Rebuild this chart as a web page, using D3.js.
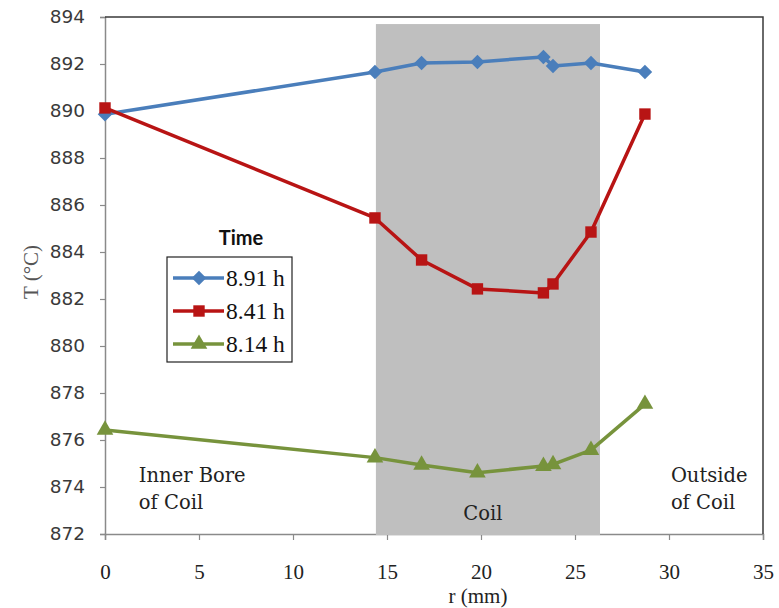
<!DOCTYPE html>
<html>
<head>
<meta charset="utf-8">
<script src="https://cdn.jsdelivr.net/npm/d3@7"></script>
<style>
	body { margin: 0; background: #fff; }
	svg { display: block; }
</style>
</head>
<body>
<script>
// radial positions (mm) shared by all three time series
const rMm = [0, 14.36, 16.84, 19.81, 23.32, 23.83, 25.85, 28.72];
const t891 = [889.86, 891.66, 892.04, 892.09, 892.3, 891.92, 892.04, 891.66];
const t841 = [890.13, 885.45, 883.66, 882.43, 882.26, 882.64, 884.85, 889.87];
const t814 = [876.43, 875.25, 874.94, 874.61, 874.89, 874.96, 875.57, 877.53];
const seriesNames = ["8.91 h", "8.41 h", "8.14 h"];
const xTicks = [0, 5, 10, 15, 20, 25, 30, 35];
const yTicks = [872, 874, 876, 878, 880, 882, 884, 886, 888, 890, 892, 894];
const coilBand = [14.41, 26.33];
const coilTop = 893.7;

/*---------size---------*/
const W = 779, H = 608;
const mg = { t: 17, r: 16, b: 74, l: 105 };
const pw = W - mg.l - mg.r, ph = H - mg.t - mg.b;

const x = d3.scaleLinear().domain([0, 35]).range([0, pw]);
const y = d3.scaleLinear().domain([872, 894]).range([ph, 0]);

const colors = ["#4A7EBB", "#B81414", "#77933C"];
// diamond = square turned 45 degrees, closer to the spreadsheet marker
const shapes = [d3.symbolSquare, d3.symbolSquare, d3.symbolTriangle];
const shapeSize = [105, 130, 120];
const shapeRot = [45, 0, 0];

const svg = d3.select("body").append("svg").attr("width", W).attr("height", H);
const g = svg.append("g").attr("transform", `translate(${mg.l},${mg.t})`);

/*---------axes---------*/
const yAxis = g.append("g")
	.call(d3.axisLeft(y).tickValues(yTicks).tickSize(5).tickPadding(15).tickFormat(d3.format("d")));
yAxis.selectAll("text")
	.style("font-family", "DejaVu Sans, Verdana, sans-serif")
	.style("font-size", "18.5px")
	.attr("fill", "#3a3a3a");

const xAxis = g.append("g")
	.attr("transform", `translate(0,${ph})`)
	.call(d3.axisBottom(x).tickValues(xTicks).tickSize(6).tickPadding(24));
xAxis.selectAll("text")
	.style("font-family", "Liberation Serif, Times New Roman, serif")
	.style("font-size", "21px")
	.attr("fill", "#222");

[yAxis, xAxis].forEach((a) => {
	a.select(".domain").attr("stroke", "#8a8a8a").attr("stroke-width", 1.5);
	a.selectAll(".tick line").attr("stroke", "#8a8a8a").attr("stroke-width", 1.2);
});

// top and right frame
g.append("path")
	.attr("d", `M0,0H${pw}V${ph}`)
	.attr("fill", "none")
	.attr("stroke", "#3a3a3a")
	.attr("stroke-width", 1.5);

/*---------coil band---------*/
g.append("rect")
	.attr("x", x(coilBand[0]))
	.attr("y", y(coilTop))
	.attr("width", x(coilBand[1]) - x(coilBand[0]))
	.attr("height", y(872) - y(coilTop) + 1)
	.attr("fill", "#bfbfbf");

/*---------series---------*/
const series = [t891, t841, t814];
const line = d3.line().x((d) => x(d[0])).y((d) => y(d[1]));

series.forEach((vals, i) => {
	const pts = rMm.map((r, j) => [r, vals[j]]);
	g.append("path")
		.datum(pts)
		.attr("d", line)
		.attr("fill", "none")
		.attr("stroke", colors[i])
		.attr("stroke-width", 3.5)
		.attr("stroke-linejoin", "round");
	g.selectAll(null)
		.data(pts)
		.enter()
		.append("path")
		.attr("transform", (d) => `translate(${x(d[0])},${y(d[1])}) rotate(${shapeRot[i]})`)
		.attr("d", d3.symbol().type(shapes[i]).size(shapeSize[i]))
		.attr("fill", colors[i]);
});

/*---------annotations---------*/
const ann = [
	{ t: "Inner Bore", r: 1.8, v: 874.2, a: "start" },
	{ t: "of Coil", r: 1.8, v: 873.05, a: "start" },
	{ t: "Coil", r: 20.1, v: 872.6, a: "middle" },
	{ t: "Outside", r: 30.1, v: 874.2, a: "start" },
	{ t: "of Coil", r: 30.1, v: 873.05, a: "start" }
];
g.selectAll(null)
	.data(ann)
	.enter()
	.append("text")
	.attr("x", (d) => x(d.r))
	.attr("y", (d) => y(d.v))
	.attr("text-anchor", (d) => d.a)
	.style("font-family", "DejaVu Serif, serif")
	.style("font-size", "19.5px")
	.attr("fill", "#222")
	.text((d) => d.t);

/*---------axis titles---------*/
svg.append("text")
	.attr("x", mg.l + x(20) - 3)
	.attr("y", 603)
	.attr("text-anchor", "middle")
	.style("font-family", "Liberation Serif, serif")
	.style("font-size", "21px")
	.attr("fill", "#222")
	.text("r (mm)");

svg.append("text")
	.attr("transform", "translate(38,272) rotate(-90)")
	.attr("text-anchor", "middle")
	.style("font-family", "Liberation Serif, serif")
	.style("font-size", "21px")
	.attr("fill", "#555")
	.text("T (°C)");

/*---------legend---------*/
const lg = svg.append("g").attr("id", "legend");
lg.append("text")
	.attr("x", 241)
	.attr("y", 245)
	.attr("text-anchor", "middle")
	.style("font-family", "Lato, sans-serif")
	.style("font-weight", "bold")
	.style("font-size", "20px")
	.attr("fill", "#111")
	.text("Time");
lg.append("rect")
	.attr("x", 167).attr("y", 257)
	.attr("width", 125).attr("height", 105)
	.attr("fill", "#fff")
	.attr("stroke", "#222")
	.attr("stroke-width", 1.2);

const rowY = [278, 311, 344];
seriesNames.forEach((name, i) => {
	const row = lg.append("g").attr("transform", `translate(0,${rowY[i]})`);
	row.append("line")
		.attr("x1", 173).attr("x2", 224)
		.attr("stroke", colors[i])
		.attr("stroke-width", 3.5);
	row.append("path")
		.attr("transform", `translate(199,0) rotate(${shapeRot[i]})`)
		.attr("d", d3.symbol().type(shapes[i]).size(shapeSize[i]))
		.attr("fill", colors[i]);
	row.append("text")
		.attr("x", 226)
		.attr("y", 8)
		.style("font-family", "Liberation Serif, serif")
		.style("font-size", "23.5px")
		.attr("fill", "#111")
		.text(name);
});
</script>
</body>
</html>
